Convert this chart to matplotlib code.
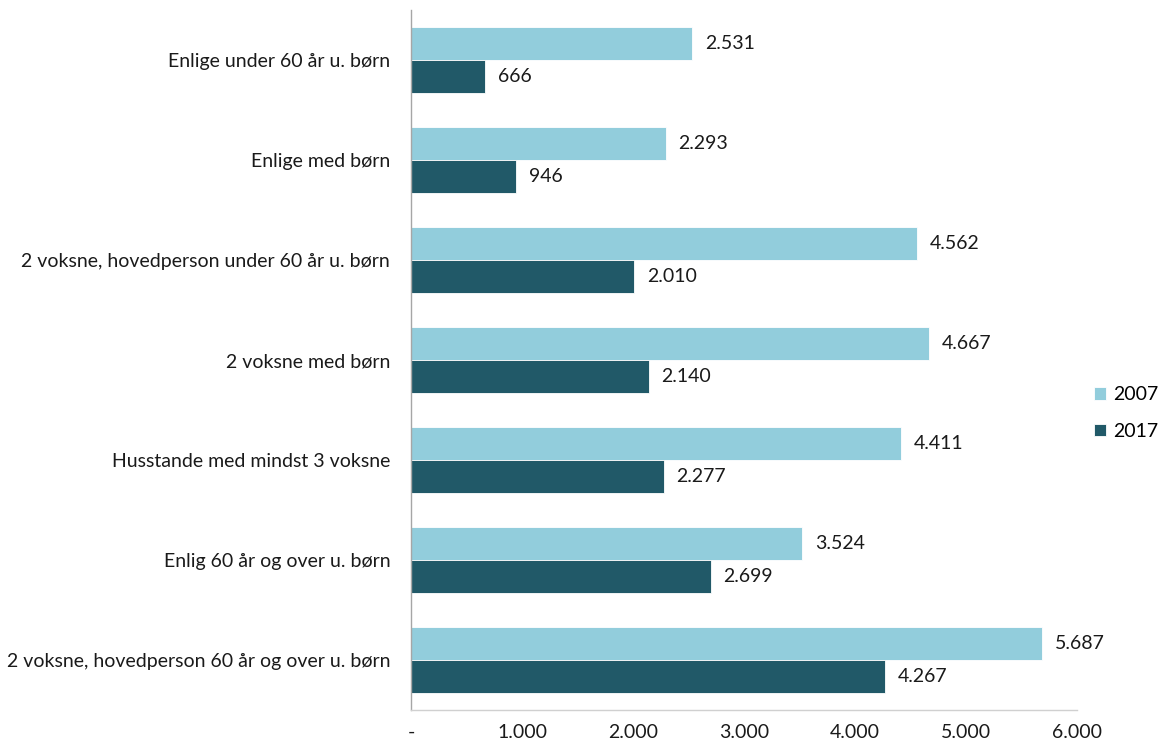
import matplotlib
matplotlib.use("Agg")
import matplotlib.pyplot as plt
import numpy as np

categories = [
    "Enlige under 60 år u. børn",
    "Enlige med børn",
    "2 voksne, hovedperson under 60 år u. børn",
    "2 voksne med børn",
    "Husstande med mindst 3 voksne",
    "Enlig 60 år og over u. børn",
    "2 voksne, hovedperson 60 år og over u. børn",
]
v2007 = [2531, 2293, 4562, 4667, 4411, 3524, 5687]
v2017 = [666, 946, 2010, 2140, 2277, 2699, 4267]
series_labels = ["2007", "2017"]
xticks = [0, 1000, 2000, 3000, 4000, 5000, 6000]
xticklabels = ["-", "1.000", "2.000", "3.000", "4.000", "5.000", "6.000"]

plt.rcParams['font.family'] = ['Lato', 'DejaVu Sans']

c_light = "#92CDDC"
c_dark = "#215968"
fs = 14

fig = plt.figure(figsize=(11.62, 7.44), dpi=100)
ax = fig.add_axes([411/1162, 1-710/744, (1077-411)/1162, 700/744])

n = len(categories)
y = np.arange(n)
h = 0.33
b1 = ax.barh(y - h/2, v2007, height=h, color=c_light, edgecolor="white", linewidth=0.6, label=series_labels[0])
b2 = ax.barh(y + h/2, v2017, height=h, color=c_dark, edgecolor="white", linewidth=0.6, label=series_labels[1])

def fmt(v):
    return f"{v:,}".replace(",", ".")

for bars, vals in ((b1, v2007), (b2, v2017)):
    for rect, v in zip(bars, vals):
        ax.text(v + 115, rect.get_y() + rect.get_height()/2, fmt(v),
                va="center", ha="left", fontsize=fs, color="#1a1a1a")

ax.set_ylim(n - 0.5, -0.5)
ax.set_xlim(0, 6000)
ax.set_yticks(y)
ax.set_yticklabels(categories, fontsize=fs, color="#1a1a1a")
ax.set_xticks(xticks)
ax.set_xticklabels(xticklabels, fontsize=fs, color="#1a1a1a")
ax.tick_params(axis="both", length=0)
ax.tick_params(axis="x", pad=10)
ax.tick_params(axis="y", pad=15)
for s in ["top", "right"]:
    ax.spines[s].set_visible(False)
ax.spines["left"].set_color("#a6a6a6")
ax.spines["bottom"].set_color("#d0d0d0")
ax.spines["left"].set_linewidth(1.0)
ax.spines["bottom"].set_linewidth(1.0)

leg = fig.legend(handles=[b1, b2], labels=series_labels, loc="center left",
                 bbox_to_anchor=(1094/1162, 1-413/744), frameon=False,
                 fontsize=fs, handlelength=0.6, handleheight=0.6,
                 labelspacing=1.0, handletextpad=0.4, borderaxespad=0,
                 borderpad=0)

fig.savefig("out.png", dpi=100)
